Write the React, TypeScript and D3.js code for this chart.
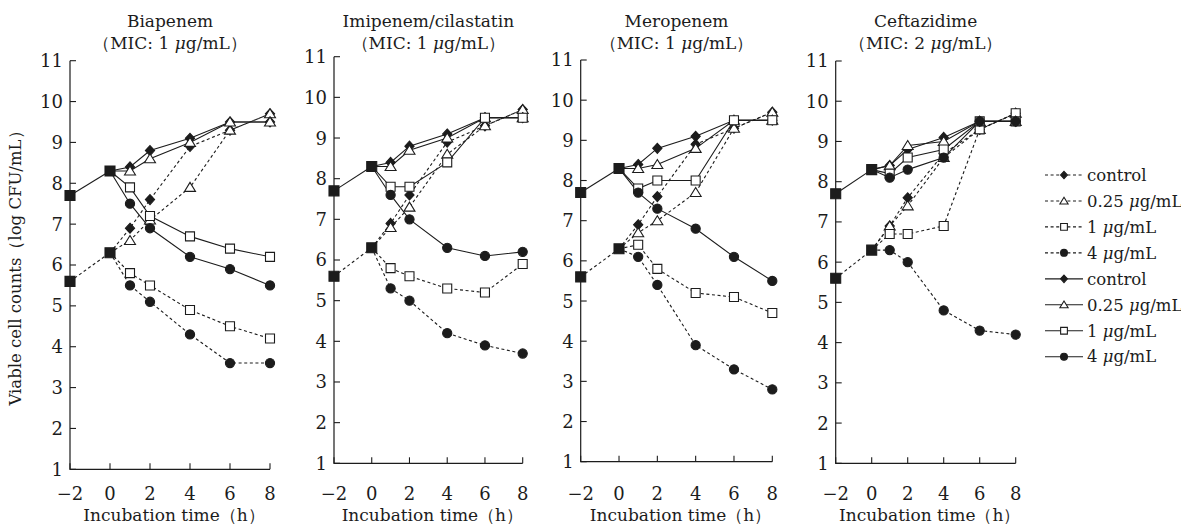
import React from "react";
import * as d3 from "d3";

const times = [-2, 0, 1, 2, 4, 6, 8];
const xTicks = [-2, 0, 2, 4, 6, 8];
const yTicks = [1, 2, 3, 4, 5, 6, 7, 8, 9, 10, 11];
const drugNames = ["Biapenem", "Imipenem/cilastatin", "Meropenem", "Ceftazidime"];
const micValues = ["1", "1", "1", "2"];
const doseLabels = ["control", "0.25", "1", "4"];
const markerKinds = ["diamond", "triangle", "square", "circle"];

// rows: control, 0.25, 1, 4 ug/mL ; columns follow `times`
const biapenemLow = [
  [5.6, 6.3, 6.9, 7.6, 8.9, 9.3, 9.7],
  [5.6, 6.3, 6.6, 7.1, 7.9, 9.3, 9.7],
  [5.6, 6.3, 5.8, 5.5, 4.9, 4.5, 4.2],
  [5.6, 6.3, 5.5, 5.1, 4.3, 3.6, 3.6],
];
const biapenemHigh = [
  [7.7, 8.3, 8.4, 8.8, 9.1, 9.5, 9.5],
  [7.7, 8.3, 8.3, 8.6, 9.0, 9.5, 9.5],
  [7.7, 8.3, 7.9, 7.2, 6.7, 6.4, 6.2],
  [7.7, 8.3, 7.5, 6.9, 6.2, 5.9, 5.5],
];
const imipenemLow = [
  [5.6, 6.3, 6.9, 7.6, 8.9, 9.3, 9.7],
  [5.6, 6.3, 6.8, 7.3, 8.6, 9.3, 9.7],
  [5.6, 6.3, 5.8, 5.6, 5.3, 5.2, 5.9],
  [5.6, 6.3, 5.3, 5.0, 4.2, 3.9, 3.7],
];
const imipenemHigh = [
  [7.7, 8.3, 8.4, 8.8, 9.1, 9.5, 9.5],
  [7.7, 8.3, 8.3, 8.7, 9.0, 9.5, 9.5],
  [7.7, 8.3, 7.8, 7.8, 8.4, 9.5, 9.5],
  [7.7, 8.3, 7.6, 7.0, 6.3, 6.1, 6.2],
];
const meropenemLow = [
  [5.6, 6.3, 6.9, 7.6, 8.9, 9.3, 9.7],
  [5.6, 6.3, 6.7, 7.0, 7.7, 9.3, 9.7],
  [5.6, 6.3, 6.4, 5.8, 5.2, 5.1, 4.7],
  [5.6, 6.3, 6.1, 5.4, 3.9, 3.3, 2.8],
];
const meropenemHigh = [
  [7.7, 8.3, 8.4, 8.8, 9.1, 9.5, 9.5],
  [7.7, 8.3, 8.3, 8.4, 8.8, 9.5, 9.5],
  [7.7, 8.3, 7.8, 8.0, 8.0, 9.5, 9.5],
  [7.7, 8.3, 7.7, 7.3, 6.8, 6.1, 5.5],
];
const ceftazidimeLow = [
  [5.6, 6.3, 6.9, 7.6, 8.7, 9.3, 9.7],
  [5.6, 6.3, 6.9, 7.4, 8.6, 9.3, 9.7],
  [5.6, 6.3, 6.7, 6.7, 6.9, 9.3, 9.7],
  [5.6, 6.3, 6.3, 6.0, 4.8, 4.3, 4.2],
];
const ceftazidimeHigh = [
  [7.7, 8.3, 8.4, 8.8, 9.1, 9.5, 9.5],
  [7.7, 8.3, 8.4, 8.9, 9.0, 9.5, 9.5],
  [7.7, 8.3, 8.2, 8.6, 8.8, 9.5, 9.5],
  [7.7, 8.3, 8.1, 8.3, 8.6, 9.5, 9.5],
];

const lowSets = [biapenemLow, imipenemLow, meropenemLow, ceftazidimeLow];
const highSets = [biapenemHigh, imipenemHigh, meropenemHigh, ceftazidimeHigh];

// panel frames (the scan is not perfectly regular)
const panelLeft = [70, 334, 580.7, 835.7];
const panelRight = [270, 522.7, 772.3, 1015.7];
const panelTop = [60.7, 56.7, 60, 61];
const panelBottom = [469.3, 463.3, 461.7, 463.3];

const FONT = "'DejaVu Serif', 'Liberation Serif', serif";
const INK = "#1c1c1c";
const DASH = "3,2.6";

function markerPath(kind: string, s: number) {
  if (kind === "diamond") {
    return `M0,${-5 * s}L${4.6 * s},0L0,${5 * s}L${-4.6 * s},0Z`;
  }
  if (kind === "triangle") {
    return `M0,${-5 * s}L${5.5 * s},${4 * s}L${-5.5 * s},${4 * s}Z`;
  }
  if (kind === "square") {
    return `M${-4.5 * s},${-4.5 * s}h${9 * s}v${9 * s}h${-9 * s}Z`;
  }
  if (kind === "block") {
    return `M${-5 * s},${-5 * s}h${10 * s}v${10 * s}h${-10 * s}Z`;
  }
  const r = 4.6 * s;
  return `M${r},0A${r},${r} 0 1,1 ${-r},0A${r},${r} 0 1,1 ${r},0Z`;
}

function isFilled(kind: string) {
  return kind === "diamond" || kind === "circle" || kind === "block";
}

function Marker({ kind, x, y, s = 1 }: { kind: string; x: number; y: number; s?: number }) {
  return (
    <path
      d={markerPath(kind, s)}
      transform={`translate(${x},${y})`}
      fill={isFilled(kind) ? INK : "#fff"}
      stroke={INK}
      strokeWidth={1.1}
    />
  );
}

function Mu() {
  return <tspan fontStyle="italic">μ</tspan>;
}

function Panel({ i }: { i: number }) {
  const x = d3.scaleLinear().domain([-2, 8]).range([panelLeft[i], panelRight[i]]);
  const y = d3.scaleLinear().domain([1, 11]).range([panelBottom[i], panelTop[i]]);
  const line = d3
    .line<number[]>()
    .x((d) => x(d[0]))
    .y((d) => y(d[1]));

  const groups = [
    { sets: lowSets[i], dash: DASH },
    { sets: highSets[i], dash: undefined },
  ];
  const cx = (panelLeft[i] + panelRight[i]) / 2;

  return (
    <g>
      {/* titles */}
      <text x={cx} y={27} textAnchor="middle" fontSize={17} fontFamily={FONT} fill={INK}>
        {drugNames[i]}
      </text>
      <text x={cx} y={48.5} textAnchor="middle" fontSize={17} fontFamily={FONT} fill={INK}>
        （MIC: {micValues[i]} <Mu />g/mL）
      </text>

      {/* axes */}
      <path
        d={`M${x(-2)},${y(11)}V${y(1)}H${x(8)}`}
        fill="none"
        stroke={INK}
        strokeWidth={1.2}
      />
      {yTicks.map((t) => (
        <g key={"y" + t}>
          <line x1={x(-2)} x2={x(-2) + 6} y1={y(t)} y2={y(t)} stroke={INK} strokeWidth={1.1} />
          <text
            x={x(-2) - 7}
            y={y(t)}
            dy="0.36em"
            textAnchor="end"
            fontSize={18}
            fontFamily={FONT}
            fill={INK}
          >
            {t}
          </text>
        </g>
      ))}
      {xTicks.map((t) => (
        <g key={"x" + t}>
          <line x1={x(t)} x2={x(t)} y1={y(1)} y2={y(1) - 6} stroke={INK} strokeWidth={1.1} />
          <text
            x={x(t)}
            y={500}
            textAnchor="middle"
            fontSize={18}
            fontFamily={FONT}
            fill={INK}
          >
            {t < 0 ? "−" + Math.abs(t) : t}
          </text>
        </g>
      ))}
      <text x={cx + 4} y={521} textAnchor="middle" fontSize={17} fontFamily={FONT} fill={INK}>
        Incubation time（h）
      </text>

      {/* lines */}
      {groups.map((g, gi) => (
        <g key={"l" + gi}>
          <path
            d={line(times.slice(0, 2).map((t, k) => [t, g.sets[0][k]])) || ""}
            fill="none"
            stroke={INK}
            strokeWidth={1.1}
            strokeDasharray={g.dash}
          />
          {g.sets.map((vals, si) => (
            <path
              key={si}
              d={line(times.slice(1).map((t, k) => [t, vals[k + 1]])) || ""}
              fill="none"
              stroke={INK}
              strokeWidth={1.1}
              strokeDasharray={g.dash}
            />
          ))}
        </g>
      ))}

      {/* markers */}
      {groups.map((g, gi) => (
        <g key={"m" + gi}>
          {g.sets.map((vals, si) =>
            times.slice(2).map((t, k) => (
              <Marker key={si + "-" + t} kind={markerKinds[si]} x={x(t)} y={y(vals[k + 2])} />
            ))
          )}
          {times.slice(0, 2).map((t, k) => (
            <Marker key={"b" + t} kind="block" x={x(t)} y={y(g.sets[0][k])} />
          ))}
        </g>
      ))}
    </g>
  );
}

function Legend() {
  const rowY = d3.scaleLinear().domain([0, 7]).range([175, 356.7]);
  const rows = [0, 1].flatMap((gi) =>
    doseLabels.map((lab, si) => ({ lab, si, dashed: gi === 0 }))
  );
  return (
    <g>
      {rows.map((r, k) => (
        <g key={k}>
          <line
            x1={1045}
            x2={1083}
            y1={rowY(k)}
            y2={rowY(k)}
            stroke={INK}
            strokeWidth={1.1}
            strokeDasharray={r.dashed ? DASH : undefined}
          />
          <Marker kind={markerKinds[r.si]} x={1064} y={rowY(k)} s={0.75} />
          <text
            x={1087}
            y={rowY(k)}
            dy="0.35em"
            fontSize={16.5}
            fontFamily={FONT}
            fill={INK}
          >
            {r.lab === "control" ? (
              "control"
            ) : (
              <>
                {r.lab} <Mu />g/mL
              </>
            )}
          </text>
        </g>
      ))}
    </g>
  );
}

export default function App() {
  return (
    <svg
      width={1181}
      height={524}
      style={{ position: "absolute", left: 0, top: 0, background: "#fff" }}
    >
      <rect width={1181} height={524} fill="#fff" />
      <text
        transform="translate(21,264) rotate(-90)"
        textAnchor="middle"
        fontSize={16.5}
        fontFamily={FONT}
        fill={INK}
      >
        Viable cell counts（log CFU/mL）
      </text>
      {drugNames.map((_, i) => (
        <Panel key={i} i={i} />
      ))}
      <Legend />
    </svg>
  );
}
